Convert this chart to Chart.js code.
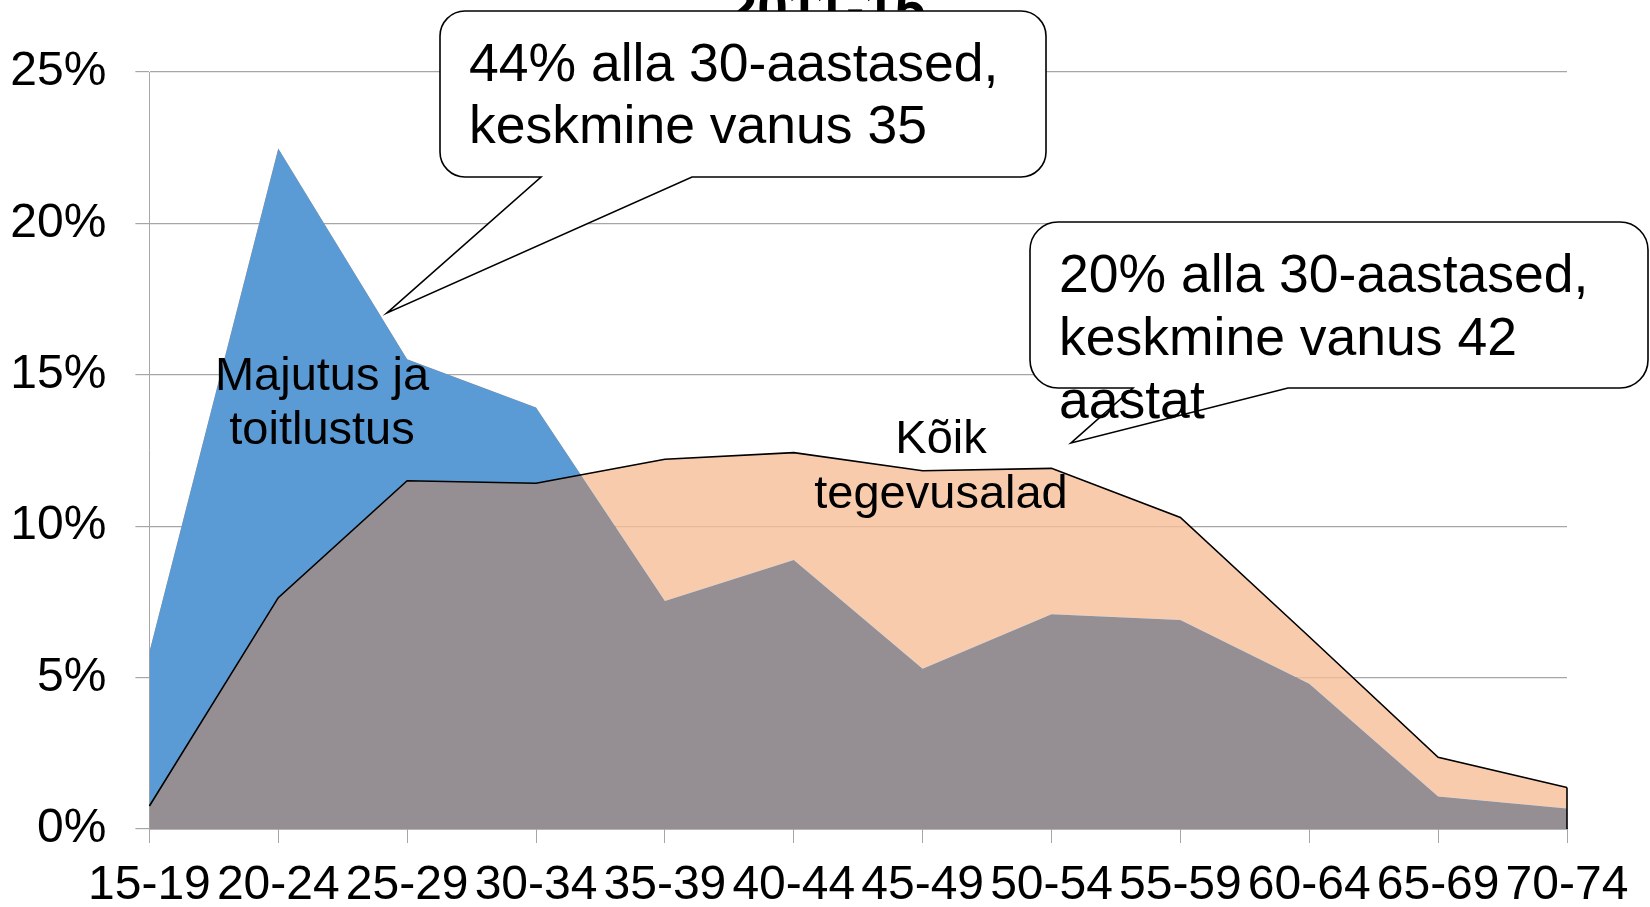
<!DOCTYPE html>
<html lang="et">
<head>
<meta charset="utf-8">
<title>Hõivatute vanusjaotus 2011-15</title>
<script src="https://cdn.jsdelivr.net/npm/chart.js@4.4.1/dist/chart.umd.min.js"></script>
<style>
  html, body { margin: 0; padding: 0; background: #fff; }
  #wrap { width: 1650px; height: 907px; }
</style>
</head>
<body>
<div id="wrap"><canvas id="chart" width="1650" height="907"></canvas></div>
<script>
// age groups on the x axis
const ageGroups = ['15-19', '20-24', '25-29', '30-34', '35-39', '40-44', '45-49', '50-54', '55-59', '60-64', '65-69', '70-74'];
// share of employed by age group, %
const majutus = [5.85, 22.47, 15.51, 13.92, 7.53, 8.88, 5.29, 7.09, 6.90, 4.80, 1.07, 0.68];
const koik = [0.76, 7.64, 11.50, 11.42, 12.21, 12.43, 11.83, 11.91, 10.29, 6.35, 2.37, 1.37];
const yTicks = [0, 5, 10, 15, 20, 25];

const FONT = "'Liberation Sans', Arial, sans-serif";
const BLUE = '#5b9bd5';
const OVERLAP = '#958e92';
const PEACH = 'rgba(246, 190, 152, 0.8)';

function callout(ctx, box, tip, lines, textX, baselines) {
    const { x0, y0, x1, y1, r, baseL, baseR } = box;
    ctx.save();
    ctx.beginPath();
    ctx.moveTo(x0 + r, y0);
    ctx.lineTo(x1 - r, y0);
    ctx.arcTo(x1, y0, x1, y0 + r, r);
    ctx.lineTo(x1, y1 - r);
    ctx.arcTo(x1, y1, x1 - r, y1, r);
    ctx.lineTo(baseR, y1);
    ctx.lineTo(tip[0], tip[1]);
    ctx.lineTo(baseL, y1);
    ctx.lineTo(x0 + r, y1);
    ctx.arcTo(x0, y1, x0, y1 - r, r);
    ctx.lineTo(x0, y0 + r);
    ctx.arcTo(x0, y0, x0 + r, y0, r);
    ctx.closePath();
    ctx.fillStyle = '#fff';
    ctx.fill();
    ctx.lineWidth = 1.6;
    ctx.strokeStyle = '#000';
    ctx.stroke();
    ctx.fillStyle = '#000';
    ctx.font = '53.5px ' + FONT;
    ctx.textAlign = 'left';
    ctx.textBaseline = 'alphabetic';
    lines.forEach((t, i) => ctx.fillText(t, textX, baselines[i]));
    ctx.restore();
}

const annotations = {
    id: 'annotations',
    afterDatasetsDraw(chart) {
        const ctx = chart.ctx;
        const xs = chart.scales.x, ys = chart.scales.y;
        // closing edge of the "Kõik" area on the right
        const last = koik.length - 1;
        ctx.save();
        ctx.strokeStyle = '#000';
        ctx.lineWidth = 1.6;
        ctx.beginPath();
        ctx.moveTo(xs.getPixelForValue(last), ys.getPixelForValue(koik[last]));
        ctx.lineTo(xs.getPixelForValue(last), ys.getPixelForValue(0));
        ctx.stroke();

        // series labels
        ctx.fillStyle = '#000';
        ctx.font = '47px ' + FONT;
        ctx.textAlign = 'center';
        ctx.fillText('Majutus ja', 322, 390);
        ctx.fillText('toitlustus', 322, 444);
        ctx.fillText('Kõik', 941, 453);
        ctx.fillText('tegevusalad', 941, 508);
        ctx.restore();
    },
    afterDraw(chart) {
        const ctx = chart.ctx;
        // title, mostly hidden behind the first callout
        ctx.save();
        ctx.fillStyle = '#000';
        ctx.font = 'bold 55px ' + FONT;
        ctx.textAlign = 'center';
        ctx.fillText('2011-15', 826, 27);
        ctx.restore();

        callout(ctx, { x0: 440, y0: 11, x1: 1046, y1: 177, r: 25, baseL: 541, baseR: 692 }, [387, 313],
            ['44% alla 30-aastased,', 'keskmine vanus 35'], 469, [81, 143]);
        callout(ctx, { x0: 1030, y0: 222, x1: 1648, y1: 388, r: 28, baseL: 1133, baseR: 1288 }, [1071, 443],
            ['20% alla 30-aastased,', 'keskmine vanus 42', 'aastat'], 1059, [292, 355, 418]);
    }
};

new Chart(document.getElementById('chart'), {
    type: 'line',
    data: {
        labels: ageGroups,
        // datasets are painted last-to-first, so the gray base goes second
        datasets: [
            {
                label: 'Kõik tegevusalad',
                data: koik,
                // above the other series: own colour, below it: the blue one
                fill: { target: 1, above: PEACH, below: BLUE },
                borderColor: '#000',
                borderWidth: 1.6,
                pointRadius: 0,
                tension: 0
            },
            {
                label: 'Majutus ja toitlustus',
                data: majutus,
                fill: 'origin',
                backgroundColor: OVERLAP,
                borderWidth: 0,
                pointRadius: 0,
                tension: 0
            }
        ]
    },
    options: {
        responsive: false,
        animation: false,
        devicePixelRatio: 1,
        layout: { padding: { top: 72, right: 83, bottom: 0, left: 0 } },
        plugins: {
            legend: { display: false },
            tooltip: { enabled: false }
        },
        scales: {
            x: {
                offset: false,
                grid: { drawOnChartArea: false, drawTicks: true, tickLength: 14, color: '#a6a6a6' },
                border: { color: '#7f7f7f', width: 1.5 },
                ticks: {
                    autoSkip: false,
                    maxRotation: 0,
                    padding: 14,
                    color: '#000',
                    font: { family: FONT, size: 48 }
                },
                afterFit(scale) { scale.height = 78; }
            },
            y: {
                min: 0,
                max: 25,
                afterBuildTicks(scale) { scale.ticks = yTicks.map(v => ({ value: v })); },
                grid: { color: '#a6a6a6', tickLength: 14, lineWidth: 1.2 },
                border: { color: '#a6a6a6' },
                ticks: {
                    padding: 29,
                    color: '#000',
                    font: { family: FONT, size: 48 },
                    callback: v => v + '%'
                },
                afterFit(scale) { scale.width = 149.4; }
            }
        }
    },
    plugins: [annotations]
});
</script>
</body>
</html>
